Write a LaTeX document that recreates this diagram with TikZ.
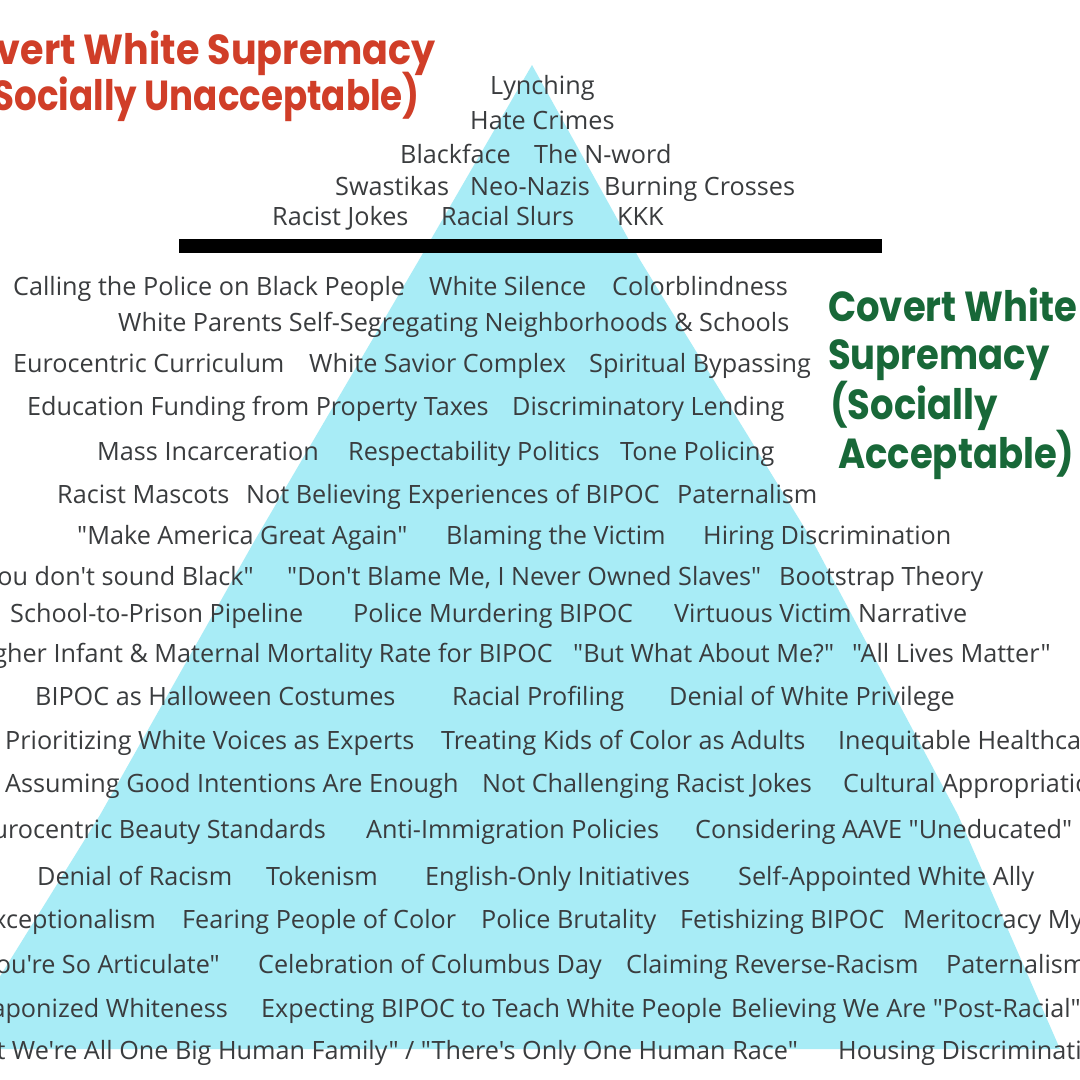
\documentclass[tikz,border=0pt]{standalone}
\usepackage{fontspec}
\newfontfamily\bodyfont{Open Sans}[Ligatures=TeXOff]
\newfontfamily\headfont{Poppins}[FakeStretch=0.88]
\definecolor{pyrfill}{RGB}{168,236,246}
\definecolor{bodytext}{RGB}{58,60,62}
\definecolor{redhead}{RGB}{208,62,40}
\definecolor{greenhead}{RGB}{24,104,56}
\begin{document}
\begin{tikzpicture}[x=1pt,y=-1pt,
  item/.style={font={\bodyfont\fontsize{25.2pt}{28pt}\selectfont}, text=bodytext, inner sep=0pt},
  headred/.style={font={\headfont\bfseries\fontsize{42pt}{46pt}\selectfont}, text=redhead, inner sep=0pt},
  headgreen/.style={font={\headfont\bfseries\fontsize{42pt}{46pt}\selectfont}, text=greenhead, inner sep=0pt},
  W/.style={item, anchor=base west},
  E/.style={item, anchor=base east}]
\useasboundingbox (0,0) rectangle (1080,1080);
\fill[white] (0,0) rectangle (1080,1080);
\clip (0,0) rectangle (1080,1080);
% pyramid
\fill[pyrfill] (532,65) -- (640,260) -- (812,540) -- (958,815) -- (1060,1049)
   -- (-45,1049) -- (100,815) -- (255,540) -- (419,260) -- cycle;
% divider bar
\fill[black] (179,239) rectangle (882,253);
% headings
\node[headred, anchor=base east, xscale=1.03, transform shape] (h1) at (436,64) {Overt White Supremacy};
\node[headred, anchor=base east, xscale=0.965, transform shape] (h2) at (420,110) {(Socially Unacceptable)};
\node[headgreen, anchor=base west] (g1) at (828,321) {Covert White};
\node[headgreen, anchor=base west] (g2) at (828,369) {Supremacy};
\node[headgreen, anchor=base west] (g3) at (830,419) {(Socially};
\node[headgreen, anchor=base west] (g4) at (838,468) {Acceptable)};
% overt items
\node[W] (t1) at (490,94) {Lynching};
\node[W] (t2) at (470,129) {Hate Crimes};
\node[W] (t3a) at (400,163) {Blackface};
\node[W] (t3b) at (534,163) {The N-word};
\node[W] (t4a) at (335,195) {Swastikas};
\node[W] (t4b) at (470,195) {Neo-Nazis};
\node[W] (t4c) at (604,195) {Burning Crosses};
\node[W] (t5a) at (272,225) {Racist Jokes};
\node[W] (t5b) at (441,225) {Racial Slurs};
\node[W] (t5c) at (617,225) {KKK};
% covert items
\node[W] (a1) at (13,295) {Calling the Police on Black People};
\node[W] (a2) at (429,295) {White Silence};
\node[W] (a3) at (612,295) {Colorblindness};
\node[W] (b1) at (118,331) {White Parents Self-Segregating Neighborhoods \& Schools};
\node[W] (c1) at (13,372) {Eurocentric Curriculum};
\node[W] (c2) at (309,372) {White Savior Complex};
\node[W] (c3) at (589,372) {Spiritual Bypassing};
\node[W] (d1) at (27,415) {Education Funding from Property Taxes};
\node[W] (d2) at (512,415) {Discriminatory Lending};
\node[W] (e1) at (97,460) {Mass Incarceration};
\node[W] (e2) at (348,460) {Respectability Politics};
\node[W] (e3) at (620,460) {Tone Policing};
\node[W] (f1) at (57,503) {Racist Mascots};
\node[W] (f2) at (246,503) {Not Believing Experiences of BIPOC};
\node[W] (f3) at (677,503) {Paternalism};
\node[W] (g1i) at (77,544) {"Make America Great Again"};
\node[W] (g2i) at (446,544) {Blaming the Victim};
\node[W] (g3i) at (703,544) {Hiring Discrimination};
\node[E] (h1i) at (254,585) {"You don't sound Black"};
\node[W] (h2i) at (287,585) {"Don't Blame Me, I Never Owned Slaves"};
\node[W] (h3i) at (779,585) {Bootstrap Theory};
\node[W] (i1) at (10,622) {School-to-Prison Pipeline};
\node[W] (i2) at (353,622) {Police Murdering BIPOC};
\node[W] (i3) at (674,622) {Virtuous Victim Narrative};
\node[E] (j1) at (553,662) {Higher Infant \& Maternal Mortality Rate for BIPOC};
\node[W] (j2) at (573,662) {"But What About Me?"};
\node[W] (j3) at (852,662) {"All Lives Matter"};
\node[W] (k1) at (35,705) {BIPOC as Halloween Costumes};
\node[W] (k2) at (452,705) {Racial Profiling};
\node[W] (k3) at (669,705) {Denial of White Privilege};
\node[W] (l1) at (5,749) {Prioritizing White Voices as Experts};
\node[W] (l2) at (441,749) {Treating Kids of Color as Adults};
\node[W] (l3) at (838,749) {Inequitable Healthcare};
\node[W] (m1) at (5,792) {Assuming Good Intentions Are Enough};
\node[W] (m2) at (482,792) {Not Challenging Racist Jokes};
\node[W] (m3) at (843,792) {Cultural Appropriation};
\node[E] (n1) at (326,838) {Eurocentric Beauty Standards};
\node[W] (n2) at (366,838) {Anti-Immigration Policies};
\node[W] (n3) at (695,838) {Considering AAVE "Uneducated"};
\node[W] (o1) at (37,885) {Denial of Racism};
\node[W] (o2) at (266,885) {Tokenism};
\node[W] (o3) at (425,885) {English-Only Initiatives};
\node[W] (o4) at (738,885) {Self-Appointed White Ally};
\node[E] (p1) at (156,928) {Exceptionalism};
\node[W] (p2) at (182,928) {Fearing People of Color};
\node[W] (p3) at (481,928) {Police Brutality};
\node[W] (p4) at (680,928) {Fetishizing BIPOC};
\node[W] (p5) at (903,928) {Meritocracy Myth};
\node[E] (q1) at (220,973) {"You're So Articulate"};
\node[W] (q2) at (258,973) {Celebration of Columbus Day};
\node[W] (q3) at (626,973) {Claiming Reverse-Racism};
\node[W] (q4) at (946,973) {Paternalism};
\node[E] (r1) at (228,1017) {Weaponized Whiteness};
\node[W] (r2) at (261,1017) {Expecting BIPOC to Teach White People};
\node[W] (r3) at (731,1017) {Believing We Are "Post-Racial"};
\node[E] (s1) at (798,1059) {"But We're All One Big Human Family" / "There's Only One Human Race"};
\node[W] (s2) at (838,1059) {Housing Discrimination};
\end{tikzpicture}
\end{document}
